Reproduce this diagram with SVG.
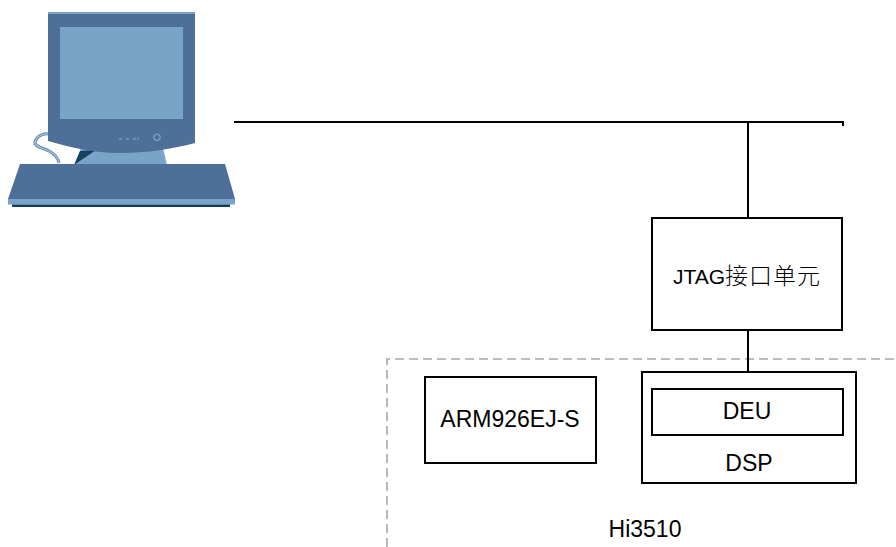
<svg xmlns="http://www.w3.org/2000/svg" width="896" height="547" viewBox="0 0 896 547">
  <style>
    .box { fill: #ffffff; stroke: #000000; stroke-width: 2; }
    .wire { fill: none; stroke: #000000; stroke-width: 2; }
    .chip { fill: none; stroke: #a8a8a8; stroke-width: 1.6; stroke-dasharray: 9 5; }
    .lbl { font-family: "Liberation Sans", Arial, sans-serif; font-size: 23px; fill: #000000; text-anchor: middle; }
    .cjk { font-family: "Noto Sans CJK SC", "Liberation Sans", sans-serif; font-weight: 300; }
    .pc-dark { fill: #4e6f98; }
    .pc-light { fill: #7aa3c8; }
  </style>

  <rect width="896" height="547" fill="#ffffff"/>

  <!-- host PC -->
  <g id="pc">
    <!-- cable -->
    <path d="M49,134 C42,133 36,137 35,142 C34,147 44,148 49,151 C55,154 58,158 59,163" fill="none" stroke="#5a7ea8" stroke-width="3"/>
    <path d="M49,134 C42,133 36,137 35,142 C34,147 44,148 49,151 C55,154 58,158 59,163" fill="none" stroke="#a9c6e2" stroke-width="1.3"/>
    <!-- stand -->
    <polygon class="pc-light" points="75,165 81,148 163,148 167,165"/>
    <polygon fill="#13425f" points="74,165 80,151 96,150"/>
    <!-- monitor body -->
    <path class="pc-dark" d="M48,14 L195,13 L195,143 C172,149 148,153 120,153 C92,153 70,147 48,141 Z"/>
    <rect x="48" y="12" width="147" height="2" fill="#7aa3c8"/>
    <!-- screen -->
    <rect class="pc-light" x="60" y="27" width="123" height="92"/>
    <!-- front controls -->
    <g stroke="#8fb0d2" stroke-width="1" fill="none">
      <path d="M119,139 h3 M126,139 h3 M133,139 h3 M139,138 l-2,1.5"/>
      <polygon points="157,134 160,135.5 160,139 157,140.5 154,139 154,135.5"/>
    </g>
    <!-- keyboard -->
    <polygon class="pc-dark" points="20,164 225,164 235,199 8,199"/>
    <rect class="pc-light" x="8" y="199" width="227" height="5.5"/>
    <rect x="12" y="204.5" width="218" height="2.5" fill="#0f3d5e"/>
  </g>

  <!-- chip boundary -->
  <g id="hi3510">
    <path class="chip" d="M387,547 L387,359 L896,359"/>
    <text class="lbl" x="645" y="537">Hi3510</text>
  </g>

  <!-- connectors -->
  <g id="connectors">
    <path class="wire" d="M234,122 H843 V126"/>
    <path class="wire" d="M748,122 V218"/>
    <path class="wire" d="M748,330 V389"/>
  </g>

  <g id="jtag">
    <rect class="box" x="652" y="218" width="190" height="112"/>
    <text class="lbl" x="747" y="284"><tspan font-size="21px">JTAG</tspan><tspan class="cjk" letter-spacing="1">接口单元</tspan></text>
  </g>

  <g id="arm">
    <rect class="box" x="425" y="377" width="171" height="86"/>
    <text class="lbl" x="510" y="427">ARM926EJ-S</text>
  </g>

  <g id="dsp">
    <rect class="box" x="642" y="372" width="214" height="111"/>
    <text class="lbl" x="749" y="471">DSP</text>
  </g>

  <g id="deu">
    <rect class="box" x="652" y="389" width="191" height="46"/>
    <text class="lbl" x="747" y="419">DEU</text>
  </g>
</svg>
